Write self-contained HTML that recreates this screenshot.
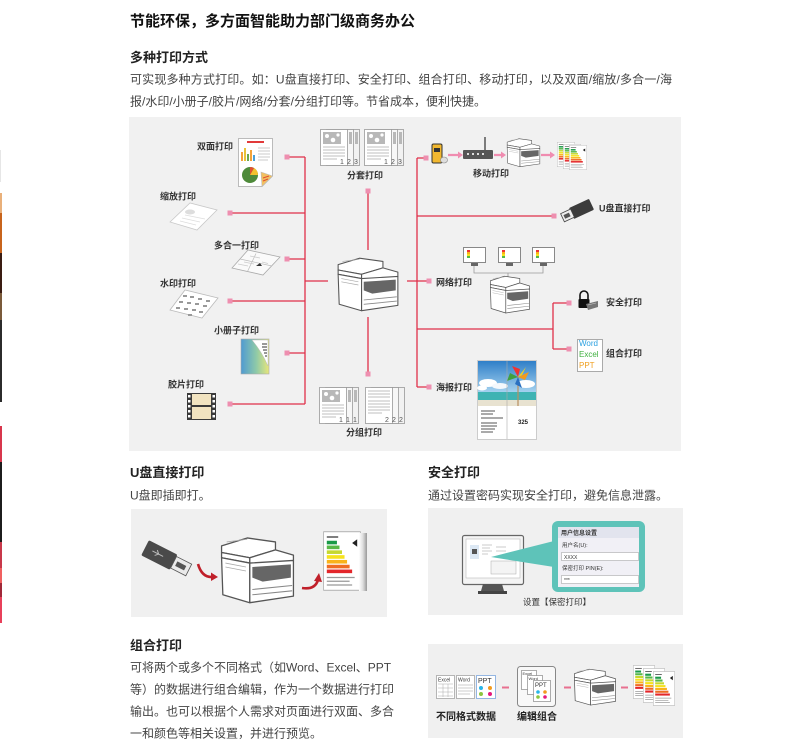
<!DOCTYPE html>
<html><head><meta charset="utf-8">
<style>
html,body{margin:0;padding:0;background:#fff;width:810px;height:752px;overflow:hidden}
svg{display:block}
text{font-family:"Liberation Sans","Noto Sans CJK SC",sans-serif}
</style></head><body>
<svg width="810" height="752" viewBox="0 0 810 752" xmlns="http://www.w3.org/2000/svg">
<defs>
<symbol id="prn" viewBox="0 0 60 56" preserveAspectRatio="none">
<g stroke="#555" stroke-width="1" stroke-linejoin="round" fill="#fff">
<path d="M2 9 L22 3 L44 6 L44 12 L24 18 L2 14 Z"/>
<path d="M2 14 L24 18 L24 22 L2 18 Z"/>
<path d="M24 18 L44 12 L58 16 L58 20 L38 26 L24 22 Z"/>
<path d="M2 18 L24 22 L24 52 L3 46 Z"/>
<path d="M24 22 L58 20 L58 47 L24 52 Z"/>
</g>
<path d="M26 25 L56 23 L56 33 L34 36 L26 33 Z" fill="#666"/>
<path d="M26 42 L57 39 M26 46 L57 43" stroke="#888" stroke-width="0.8" fill="none"/>
<path d="M5 22 L21 25 M5 25 L21 28 M6 6 L22 4" stroke="#aaa" stroke-width="0.6" fill="none"/>
</symbol>
<symbol id="elab" viewBox="0 0 30 40" preserveAspectRatio="none">
<rect x="0.5" y="0.5" width="29" height="39" fill="#fff" stroke="#aaa" stroke-width="0.6"/>
<rect x="3" y="3.5" width="9" height="1" fill="#555"/>
<rect x="3" y="6.5" width="8" height="2.4" fill="#1a9a48"/>
<rect x="3" y="9.7" width="10" height="2.4" fill="#57b847"/>
<rect x="3" y="12.9" width="12" height="2.4" fill="#c6d82e"/>
<rect x="3" y="16.1" width="14" height="2.4" fill="#f6e21c"/>
<rect x="3" y="19.3" width="16" height="2.4" fill="#f9b31b"/>
<rect x="3" y="22.5" width="18" height="2.4" fill="#ef6c23"/>
<rect x="3" y="25.7" width="20" height="2.4" fill="#e3262a"/>
<path d="M23 8 l4 -2.5 v5 z" fill="#222"/>
<path d="M3 31 h22 M3 33.5 h18 M3 36 h20" stroke="#999" stroke-width="0.8"/>
</symbol>
<linearGradient id="sky" x1="0" y1="0" x2="0" y2="1"><stop offset="0" stop-color="#2f7fc8"/><stop offset="1" stop-color="#a8d4f0"/></linearGradient>
<linearGradient id="book" x1="0" y1="0" x2="1" y2="0"><stop offset="0" stop-color="#4f9ad2"/><stop offset="0.55" stop-color="#8fcaa8"/><stop offset="1" stop-color="#e8e67a"/></linearGradient>
<linearGradient id="curl" x1="0" y1="0" x2="1" y2="0"><stop offset="0" stop-color="#fff"/><stop offset="0.5" stop-color="#ddd"/><stop offset="1" stop-color="#999"/></linearGradient>
</defs>

<!-- left edge strips -->
<rect x="0" y="150" width="1" height="32" fill="#e6e6e6"/>
<rect x="0" y="193" width="2" height="20" fill="#e9b07a"/>
<rect x="0" y="213" width="2" height="40" fill="#c8641c"/>
<rect x="0" y="253" width="2" height="40" fill="#3a1c12"/>
<rect x="0" y="293" width="2" height="27" fill="#7a5a3a"/>
<rect x="0" y="320" width="2" height="82" fill="#2b2b2b"/>
<rect x="0" y="426" width="2" height="36" fill="#d8364c"/>
<rect x="0" y="462" width="2" height="80" fill="#1c1c1c"/>
<rect x="0" y="542" width="2" height="26" fill="#c8384a"/>
<rect x="0" y="568" width="2" height="15" fill="#f06060"/>
<rect x="0" y="583" width="2" height="14" fill="#a02838"/>
<rect x="0" y="597" width="2" height="26" fill="#e8405a"/>

<!-- header texts -->
<text x="130" y="26" font-size="15" font-weight="bold" fill="#111">节能环保，多方面智能助力部门级商务办公</text>
<text x="130" y="62" font-size="13" font-weight="bold" fill="#222">多种打印方式</text>
<text x="130" y="83.5" font-size="12" fill="#444" textLength="542" lengthAdjust="spacing">可实现多种方式打印。如：U盘直接打印、安全打印、组合打印、移动打印，以及双面/缩放/多合一/海</text>
<text x="130" y="105.5" font-size="12" fill="#444">报/水印/小册子/胶片/网络/分套/分组打印等。节省成本，便利快捷。</text>

<!-- main panel -->
<rect x="129" y="117" width="552" height="334" fill="#f1f1f1"/>

<!-- connector lines -->
<g stroke="#e0304a" stroke-width="1.3" fill="none">
<path d="M305 157 V404"/>
<path d="M287 157 H305 M230 213 H305 M287 259 H305 M305 281 H328 M230 301 H305 M287 353 H305 M230 404 H305"/>
<path d="M368 191 V250 M368 317 V374"/>
<path d="M417 158 V387"/>
<path d="M417 158 H426 M417 216 H554 M407 281 H429 M417 329 H553 M553 303 V349 M553 303 H569 M553 349 H569 M417 387 H429"/>
</g>
<g fill="#ee8fb0">
<rect x="284.5" y="154.5" width="5" height="5"/>
<rect x="227.5" y="210.5" width="5" height="5"/>
<rect x="284.5" y="256.5" width="5" height="5"/>
<rect x="227.5" y="298.5" width="5" height="5"/>
<rect x="284.5" y="350.5" width="5" height="5"/>
<rect x="227.5" y="401.5" width="5" height="5"/>
<rect x="365.5" y="188.5" width="5" height="5"/>
<rect x="365.5" y="371.5" width="5" height="5"/>
<rect x="423.5" y="155.5" width="5" height="5"/>
<rect x="551.5" y="213.5" width="5" height="5"/>
<rect x="426.5" y="278.5" width="5" height="5"/>
<rect x="566.5" y="300.5" width="5" height="5"/>
<rect x="566.5" y="346.5" width="5" height="5"/>
<rect x="426.5" y="384.5" width="5" height="5"/>
</g>

<!-- labels -->
<g font-size="9" font-weight="bold" fill="#333">
<text x="197" y="149.5">双面打印</text>
<text x="160" y="199.5">缩放打印</text>
<text x="214" y="248.5">多合一打印</text>
<text x="160" y="286.5">水印打印</text>
<text x="214" y="333.5">小册子打印</text>
<text x="168" y="387.5">胶片打印</text>
<text x="347" y="178.5">分套打印</text>
<text x="346" y="435.5">分组打印</text>
<text x="473" y="176.5">移动打印</text>
<text x="599" y="211.5">U盘直接打印</text>
<text x="436" y="285.5">网络打印</text>
<text x="606" y="305.5">安全打印</text>
<text x="606" y="356.5">组合打印</text>
<text x="436" y="390.5">海报打印</text>
</g>

<!-- 双面 doc -->
<path d="M238.5 138.5 H272.5 V176 L262 186.5 H238.5 Z" fill="#fff" stroke="#bbb"/>
<rect x="247" y="141" width="17" height="2" fill="#e23a3a"/>
<rect x="241" y="152" width="2" height="9" fill="#f3a33a"/>
<rect x="244" y="148" width="2" height="13" fill="#e8c33a"/>
<rect x="247" y="154" width="2" height="7" fill="#6aa84f"/>
<rect x="250" y="150" width="2" height="11" fill="#f3a33a"/>
<rect x="253" y="155" width="2" height="6" fill="#4aa0d8"/>
<path d="M258 148 h12 M258 151 h12 M258 154 h12 M258 157 h12 M258 160 h10" stroke="#bbb" stroke-width="0.8"/>
<circle cx="250" cy="175" r="8" fill="#4e8a3a"/>
<path d="M250 175 L258 175 A8 8 0 0 0 254 168 Z" fill="#f2c12e"/>
<path d="M250 175 L254 168 A8 8 0 0 0 250 167 Z" fill="#e05030"/>
<path d="M262 186.5 L272.5 176 L261 172 Z" fill="#f3c060" stroke="#bbb" stroke-width="0.6"/>
<path d="M263 178 l6 -2 M263 181 l5 -2" stroke="#e05030" stroke-width="1"/>

<!-- 缩放 -->
<path d="M170 222 L190 203 L217 210 L197 230 Z" fill="#fff" stroke="#c8c8c8" stroke-width="0.8"/>
<ellipse cx="190" cy="212" rx="5" ry="2.5" fill="#ddd"/>
<path d="M182 218 L200 222 M185 215 L205 219 M180 221 L196 225" stroke="#ddd" stroke-width="0.8"/>

<!-- 多合一 -->
<path d="M232 268 L248 250 L280 257 L263 275 Z" fill="#fafafa" stroke="#aaa" stroke-width="0.8"/>
<path d="M240 259 L272 266 M256 253.5 L247.5 271.5" stroke="#bbb" stroke-width="0.7"/>
<path d="M238 264 l10 2 M250 256 l10 2 M244 262 l10 2 M262 262 l6 1.5" stroke="#ccc" stroke-width="0.8"/>
<path d="M256 266 l4 -3 l2 3 z" fill="#333"/>

<!-- 水印 -->
<path d="M170 310 L185 290 L218 298 L202 318 Z" fill="#fff" stroke="#bbb" stroke-width="0.8"/>
<g fill="#999">
<rect x="183" y="295" width="4" height="2"/><rect x="190" y="296" width="4" height="2"/><rect x="198" y="298" width="4" height="2"/><rect x="206" y="300" width="4" height="2"/>
<rect x="179" y="301" width="4" height="2"/><rect x="187" y="302" width="4" height="2"/><rect x="195" y="303" width="4" height="2"/><rect x="203" y="305" width="4" height="2"/>
<rect x="176" y="307" width="4" height="2"/><rect x="184" y="308" width="4" height="2"/><rect x="192" y="309" width="4" height="2"/><rect x="199" y="311" width="4" height="2"/>
<rect x="188" y="314" width="4" height="2"/>
</g>

<!-- 小册子 -->
<rect x="241" y="339" width="28" height="35" fill="url(#book)" stroke="#aaa" stroke-width="0.6"/>
<path d="M252 340 L268 340 L268 366 Q262 352 252 340 Z" fill="#fff" stroke="#bbb" stroke-width="0.5"/>
<path d="M262 344 h5 M262 347 h5 M263 350 h4 M264 353 h3 M265 356 h2" stroke="#333" stroke-width="1"/>

<!-- 胶片 -->
<rect x="187" y="393" width="29" height="27" fill="#3a3a3a"/>
<rect x="192" y="394" width="19" height="11" fill="#f1e3c0"/>
<rect x="192" y="407" width="19" height="12" fill="#f1e3c0"/>
<g fill="#fff">
<rect x="188" y="395" width="2.5" height="2.5"/><rect x="188" y="400" width="2.5" height="2.5"/><rect x="188" y="405" width="2.5" height="2.5"/><rect x="188" y="410" width="2.5" height="2.5"/><rect x="188" y="415" width="2.5" height="2.5"/>
<rect x="212.5" y="395" width="2.5" height="2.5"/><rect x="212.5" y="400" width="2.5" height="2.5"/><rect x="212.5" y="405" width="2.5" height="2.5"/><rect x="212.5" y="410" width="2.5" height="2.5"/><rect x="212.5" y="415" width="2.5" height="2.5"/>
</g>

<!-- 分套 stacks -->
<g stroke="#999" stroke-width="0.8">
<rect x="332.5" y="129.5" width="27" height="36" fill="#f2f2f2"/>
<rect x="326.5" y="129.5" width="27" height="36" fill="#f7f7f7"/>
<rect x="320.5" y="129.5" width="27" height="36" fill="#fff"/>
<rect x="376.5" y="129.5" width="27" height="36" fill="#f2f2f2"/>
<rect x="370.5" y="129.5" width="27" height="36" fill="#f7f7f7"/>
<rect x="364.5" y="129.5" width="27" height="36" fill="#fff"/>
</g>
<g fill="#b8b8b8">
<rect x="323" y="132" width="18" height="12"/><rect x="349" y="132" width="3" height="12"/><rect x="355" y="132" width="3" height="12"/>
<rect x="367" y="132" width="18" height="12"/><rect x="393" y="132" width="3" height="12"/><rect x="399" y="132" width="3" height="12"/>
</g>
<g fill="#fff"><circle cx="327" cy="136" r="2"/><circle cx="333" cy="140" r="2.3"/><circle cx="338" cy="135" r="1.6"/><circle cx="371" cy="136" r="2"/><circle cx="377" cy="140" r="2.3"/><circle cx="382" cy="135" r="1.6"/></g>
<path d="M323 147 h22 M323 150 h22 M323 153 h22 M323 156 h22 M323 159 h14 M367 147 h22 M367 150 h22 M367 153 h22 M367 156 h22 M367 159 h14" stroke="#aaa" stroke-width="0.8"/>
<g font-size="7" fill="#555"><text x="340" y="164">1</text><text x="347" y="164">2</text><text x="354" y="164">3</text><text x="384" y="164">1</text><text x="391" y="164">2</text><text x="398" y="164">3</text></g>

<!-- 分组 stacks -->
<g stroke="#999" stroke-width="0.8">
<rect x="331.5" y="387.5" width="27" height="36" fill="#f2f2f2"/>
<rect x="325.5" y="387.5" width="27" height="36" fill="#f7f7f7"/>
<rect x="319.5" y="387.5" width="27" height="36" fill="#fff"/>
<rect x="377.5" y="387.5" width="27" height="36" fill="#f2f2f2"/>
<rect x="371.5" y="387.5" width="27" height="36" fill="#f7f7f7"/>
<rect x="365.5" y="387.5" width="27" height="36" fill="#fff"/>
</g>
<g fill="#b8b8b8"><rect x="322" y="390" width="18" height="12"/><rect x="348" y="390" width="3" height="12"/><rect x="354" y="390" width="3" height="12"/></g>
<g fill="#fff"><circle cx="326" cy="394" r="2"/><circle cx="332" cy="398" r="2.3"/><circle cx="337" cy="393" r="1.6"/></g>
<path d="M322 405 h22 M322 408 h22 M322 411 h22 M322 414 h22 M322 417 h14 M368 391 h22 M368 394 h22 M368 397 h22 M368 401 h22 M368 404 h22 M368 407 h22 M368 410 h22 M368 413 h14" stroke="#aaa" stroke-width="0.8"/>
<g font-size="7" fill="#555"><text x="339" y="422">1</text><text x="346" y="422">1</text><text x="353" y="422">1</text><text x="385" y="422">2</text><text x="392" y="422">2</text><text x="399" y="422">2</text></g>

<!-- center printer -->
<use href="#prn" x="336" y="255" width="64" height="60"/>

<!-- mobile print -->
<rect x="432" y="144" width="10" height="19" rx="1.5" fill="#f2b830" stroke="#333" stroke-width="1"/>
<rect x="434" y="148" width="6" height="4" fill="#333"/>
<ellipse cx="444" cy="160" rx="3.5" ry="3" fill="#ddd" stroke="#888" stroke-width="0.6"/>
<g stroke="#f08cb0" stroke-width="2.2"><path d="M448 155 H459 M494 155 H502 M541 155 H551"/></g>
<g fill="#f08cb0"><path d="M458 151.5 L463 155 L458 158.5 Z M501 151.5 L506 155 L501 158.5 Z M550 151.5 L555 155 L550 158.5 Z"/></g>
<rect x="463" y="150" width="30" height="9" rx="1" fill="#555"/>
<path d="M485 150 V137" stroke="#555" stroke-width="1.5"/>
<g fill="#ddd"><rect x="467" y="153" width="2" height="2"/><rect x="472" y="153" width="2" height="2"/><rect x="477" y="153" width="2" height="2"/><rect x="482" y="153" width="2" height="2"/></g>
<use href="#prn" x="506" y="137" width="35" height="32"/>
<use href="#elab" x="557" y="142" width="18" height="25"/>
<use href="#elab" x="563" y="144" width="18" height="25"/>
<use href="#elab" x="569" y="145" width="18" height="25"/>

<!-- USB top -->
<g transform="translate(577,211) rotate(-25)">
<rect x="-6" y="-6" width="22" height="12" rx="1" fill="#3c3c3c"/>
<rect x="-16" y="-4.5" width="11" height="9" fill="#eee" stroke="#444" stroke-width="0.8"/>
<rect x="-14" y="-2" width="6" height="4" fill="#555"/>
</g>

<!-- monitors -->
<g>
<rect x="463.5" y="247.5" width="22" height="15" fill="#fff" stroke="#888"/>
<rect x="498.5" y="247.5" width="22" height="15" fill="#fff" stroke="#888"/>
<rect x="532.5" y="247.5" width="22" height="15" fill="#fff" stroke="#888"/>
<g>
<rect x="467" y="250" width="3" height="2" fill="#e33"/><rect x="467" y="252" width="3" height="2" fill="#f9b31b"/><rect x="467" y="254" width="3" height="2" fill="#f6e21c"/><rect x="467" y="256" width="3" height="2" fill="#57b847"/>
<rect x="502" y="250" width="3" height="2" fill="#e33"/><rect x="502" y="252" width="3" height="2" fill="#f9b31b"/><rect x="502" y="254" width="3" height="2" fill="#f6e21c"/><rect x="502" y="256" width="3" height="2" fill="#57b847"/>
<rect x="536" y="250" width="3" height="2" fill="#e33"/><rect x="536" y="252" width="3" height="2" fill="#f9b31b"/><rect x="536" y="254" width="3" height="2" fill="#f6e21c"/><rect x="536" y="256" width="3" height="2" fill="#57b847"/>
</g>
<g fill="#666"><rect x="471" y="263" width="7" height="3"/><rect x="506" y="263" width="7" height="3"/><rect x="540" y="263" width="7" height="3"/></g>
<path d="M474 266 V273 H543 V266 M508 273 V278" stroke="#999" stroke-width="0.8" fill="none"/>
</g>
<use href="#prn" x="489" y="274" width="42" height="42"/>

<!-- lock -->
<path d="M580 299 V295 A4 4 0 0 1 588 295 V299" stroke="#111" stroke-width="1.6" fill="none"/>
<rect x="578.5" y="299" width="11" height="9" rx="1" fill="#111"/>
<path d="M586 304 L598 301 L598 307 L588 310 Z" fill="#777"/>
<path d="M588 305 l8 -2" stroke="#ccc" stroke-width="0.6"/>

<!-- word/excel/ppt -->
<rect x="577.5" y="339.5" width="25" height="32" fill="#fff" stroke="#aaa"/>
<g font-size="8"><text x="579" y="346" fill="#2aa0e0">Word</text><text x="579" y="357" fill="#40b040">Excel</text><text x="579" y="368" fill="#f0a020">PPT</text></g>

<!-- poster -->
<rect x="477.5" y="360.5" width="59" height="79" fill="#fff" stroke="#ccc"/>
<rect x="478" y="361" width="58" height="32" fill="url(#sky)"/>
<ellipse cx="488" cy="383" rx="9" ry="4" fill="#fff"/><ellipse cx="500" cy="386" rx="8" ry="3" fill="#f4f8fc"/><ellipse cx="526" cy="384" rx="9" ry="4" fill="#fff"/><ellipse cx="482" cy="388" rx="5" ry="2.5" fill="#fff"/>
<rect x="478" y="392" width="58" height="8" fill="#3fb3b3"/>
<rect x="478" y="400" width="58" height="6" fill="#e8e2d0"/>
<path d="M518 377 V406" stroke="#b89060" stroke-width="1.2"/>
<path d="M518 377 L512 366 L520 369 Z" fill="#e33"/>
<path d="M518 377 L529 372 L525 380 Z" fill="#f39a1e"/>
<path d="M518 377 L522 388 L515 384 Z" fill="#2a70c0"/>
<path d="M518 377 L507 381 L510 373 Z" fill="#40a040"/>
<path d="M518 377 L526 367 L522 375 Z" fill="#f6d21c"/>
<path d="M507 361 V439" stroke="#aaa" stroke-width="0.6"/>
<path d="M481 411 h14 M481 414 h12 M481 418 h22 M481 423 h16 M481 426 h16 M481 429 h14 M481 432 h12" stroke="#555" stroke-width="0.9"/>
<text x="518" y="424" font-size="6" font-weight="bold" fill="#222">325</text>

<!-- U盘直接打印 section -->
<text x="130" y="477" font-size="13" font-weight="bold" fill="#222">U盘直接打印</text>
<text x="130" y="499.5" font-size="12" fill="#444">U盘即插即打。</text>
<rect x="131" y="509" width="256" height="108" fill="#f0f0f0"/>
<g transform="translate(168,560) rotate(27)">
<rect x="-26" y="-9" width="32" height="17" rx="1.5" fill="#4a4a4a"/>
<path d="M-18 -1 h12 M-14 -4 l3 3 l-3 3" stroke="#bbb" stroke-width="1" fill="none"/>
<rect x="6" y="-7" width="17" height="13" fill="#eaeaea" stroke="#555" stroke-width="0.8"/>
<rect x="9" y="-3" width="10" height="5" fill="#555"/>
</g>
<path d="M198 564 Q202 578 213 577" stroke="#c0202a" stroke-width="2.6" fill="none"/>
<path d="M211 572.5 L218 577 L211 581 Z" fill="#c0202a"/>
<use href="#prn" x="219" y="534" width="77" height="74"/>
<path d="M302 588 Q315 590 318 580" stroke="#c0202a" stroke-width="2.6" fill="none"/>
<path d="M314 581 L319 573 L322 582 Z" fill="#c0202a"/>
<use href="#elab" x="323" y="531" width="38" height="60"/>
<rect x="359" y="533" width="8" height="58" fill="url(#curl)"/>

<!-- 安全打印 section -->
<text x="428" y="477" font-size="13" font-weight="bold" fill="#222">安全打印</text>
<text x="428" y="499.5" font-size="12" fill="#444">通过设置密码实现安全打印，避免信息泄露。</text>
<rect x="428" y="508" width="255" height="107" fill="#f0f0f0"/>
<rect x="462.5" y="535.5" width="61" height="49" rx="2" fill="#f4f4f4" stroke="#666" stroke-width="1.2"/>
<rect x="466" y="539" width="54" height="39" fill="#fff" stroke="#bbb" stroke-width="0.6"/>
<rect x="470" y="545" width="9" height="14" fill="#dce8f4"/>
<rect x="472" y="549" width="5" height="5" fill="#555"/>
<path d="M482 545 h10 M482 548 h8 M482 551 h10 M482 554 h6 M496 547 h10 M496 551 h10" stroke="#bbb" stroke-width="0.7"/>
<rect x="491" y="561" width="25" height="13" fill="#f4f4f4" stroke="#aaa" stroke-width="0.5"/>
<path d="M483 584 L502 584 L504 591 L481 591 Z" fill="#555"/>
<rect x="478" y="591" width="29" height="3" fill="#444"/>
<path d="M491 557 L554 541 L554 567 Z" fill="#5ec3b9"/>
<rect x="552" y="521" width="93" height="71" rx="6" fill="#5ec3b9"/>
<rect x="558" y="527" width="81" height="60" fill="#f1f0f6"/>
<rect x="558" y="527" width="81" height="11" fill="#e2e4ee"/>
<text x="561" y="535" font-size="6" font-weight="bold" fill="#333">用户信息设置</text>
<text x="562" y="547" font-size="5.5" fill="#333">用户名(U):</text>
<rect x="561.5" y="552.5" width="77" height="8" fill="#fff" stroke="#999" stroke-width="0.5"/>
<text x="564" y="559" font-size="5" fill="#333">XXXX</text>
<text x="562" y="570" font-size="5.5" fill="#333">保密打印 PIN(E):</text>
<rect x="561.5" y="575.5" width="77" height="8" fill="#fff" stroke="#999" stroke-width="0.5"/>
<text x="564" y="582" font-size="5" fill="#333">***</text>
<text x="523" y="605" font-size="8.5" fill="#333">设置【保密打印】</text>

<!-- 组合打印 section -->
<text x="130" y="650" font-size="13" font-weight="bold" fill="#222">组合打印</text>
<g font-size="12" fill="#444">
<text x="130" y="671.5">可将两个或多个不同格式（如Word、Excel、PPT</text>
<text x="130" y="693.5">等）的数据进行组合编辑，作为一个数据进行打印</text>
<text x="130" y="715.5">输出。也可以根据个人需求对页面进行双面、多合</text>
<text x="130" y="737.5">一和颜色等相关设置，并进行预览。</text>
</g>
<rect x="428" y="644" width="255" height="94" fill="#f0f0f0"/>
<!-- format docs -->
<rect x="436.5" y="675.5" width="18" height="23" fill="#fff" stroke="#999" stroke-width="0.7"/>
<text x="438" y="681.5" font-size="5" fill="#333">Excel</text>
<path d="M438 684 h15 M438 688 h15 M438 692 h15 M438 696 h15 M443 684 v13 M448 684 v13" stroke="#aaa" stroke-width="0.5"/>
<rect x="456.5" y="675.5" width="18" height="23" fill="#fff" stroke="#999" stroke-width="0.7"/>
<text x="458" y="681.5" font-size="5" fill="#333">Word</text>
<path d="M458 685 h15 M458 688 h15 M458 691 h15 M458 694 h12" stroke="#999" stroke-width="0.6"/>
<rect x="476.5" y="675.5" width="19" height="23" fill="#fff" stroke="#8ab0e0" stroke-width="0.9"/>
<text x="478" y="683" font-size="7" fill="#333">PPT</text>
<circle cx="481" cy="688" r="2" fill="#29b6e8"/><circle cx="490" cy="688" r="2" fill="#f39a1e"/><circle cx="481" cy="694" r="2" fill="#8cc63f"/><circle cx="490" cy="694" r="2" fill="#e5197e"/>
<g stroke="#e87090" stroke-width="2"><path d="M502 687.5 h7 M564 687.5 h7 M621 687.5 h7"/></g>
<rect x="517.5" y="666.5" width="38" height="40" rx="3" fill="#f8f8f8" stroke="#888"/>
<rect x="521.5" y="670.5" width="15" height="19" fill="#fff" stroke="#777" stroke-width="0.6"/>
<text x="522.5" y="675" font-size="4" fill="#333">Excel</text>
<rect x="527.5" y="675.5" width="15" height="19" fill="#fff" stroke="#777" stroke-width="0.6"/>
<text x="528.5" y="680" font-size="4" fill="#333">Word</text>
<rect x="533.5" y="680.5" width="17" height="21" fill="#fff" stroke="#777" stroke-width="0.6"/>
<text x="535" y="687" font-size="6" fill="#333">PPT</text>
<circle cx="538" cy="692" r="1.8" fill="#29b6e8"/><circle cx="545" cy="692" r="1.8" fill="#f39a1e"/><circle cx="538" cy="697" r="1.8" fill="#8cc63f"/><circle cx="545" cy="697" r="1.8" fill="#e5197e"/>
<use href="#prn" x="573" y="667" width="44" height="41"/>
<use href="#elab" x="633" y="665" width="22" height="34"/>
<use href="#elab" x="643" y="668" width="22" height="35"/>
<use href="#elab" x="653" y="671" width="22" height="35"/>
<g font-size="10" font-weight="bold" fill="#222">
<text x="436" y="720">不同格式数据</text>
<text x="517" y="720">编辑组合</text>
</g>
</svg>
</body></html>
